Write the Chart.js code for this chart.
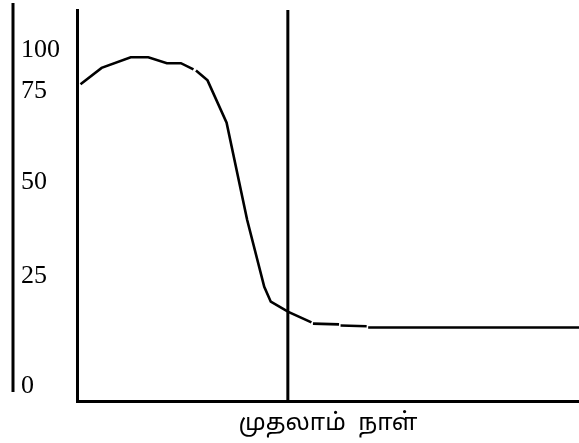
<!DOCTYPE html>
<html>
<head>
<meta charset="utf-8">
<script src="https://cdn.jsdelivr.net/npm/chart.js@4.4.1/dist/chart.umd.min.js"></script>
<style>
  html,body{margin:0;padding:0;background:#fff;}
  #wrap{width:579px;height:443px;position:relative;}
</style>
</head>
<body>
<div id="wrap"><canvas id="chart"></canvas></div>
<script>
// curve (x: 0-100 across plot, y: 0-100 up the plot); null = pen lift
const CURVE_X=[0.7,4.9,10.7,14.2,17.9,20.7,23.2,23.4,23.7,26.0,29.8,33.9,37.3,38.6,42.1,46.7,46.8,47.0,52.2,52.3,52.5,57.7,57.8,58.0,100];
const CURVE_Y=[81.0,85.2,87.9,87.9,86.4,86.4,84.8,null,84.5,82.0,71.2,46.3,29.2,25.4,22.8,20.1,null,19.8,19.6,null,19.3,19.1,null,18.8,18.8];
// vertical marker
const MARK_X=[42.0,42.0];
const MARK_Y=[0,100];
// y tick labels and where they sit on the axis
const TICK_VALUES=[3.8,32.0,56.0,79.3,89.8];
const TICK_LABELS=["0","25","50","75","100"];
const X_TITLE="முதலாம்  நாள்";

(function(){
  "use strict";
  const curve=CURVE_X.map((x,i)=>({x:x,y:CURVE_Y[i]}));
  const mark=MARK_X.map((x,i)=>({x:x,y:MARK_Y[i]}));

  // outer left rule, drawn beside the tick labels
  const leftRule={
    id:"leftRule",
    afterDraw(chart){
      const ctx=chart.ctx,a=chart.chartArea,y=chart.scales.y;
      ctx.save();
      ctx.strokeStyle="#000";ctx.lineWidth=3;
      ctx.beginPath();
      ctx.moveTo(y.left-8,a.top-7);ctx.lineTo(y.left-8,a.bottom-9);
      ctx.stroke();
      ctx.restore();
    }
  };

  new Chart(document.getElementById("chart"),{
    type:"line",
    data:{datasets:[
      {data:curve,borderColor:"#000",borderWidth:2.6,pointRadius:0,tension:0,spanGaps:false,fill:false},
      {data:mark,borderColor:"#000",borderWidth:3,pointRadius:0,tension:0,fill:false}
    ]},
    options:{
      responsive:true,maintainAspectRatio:false,animation:false,
      layout:{padding:{left:21,top:10,right:0,bottom:0}},
      plugins:{legend:{display:false},tooltip:{enabled:false}},
      scales:{
        x:{type:"linear",min:0,max:100,
          grid:{display:false},
          border:{display:true,color:"#000",width:3},
          ticks:{display:false},
          title:{display:true,text:X_TITLE,color:"#000",
            font:{family:"'Noto Sans Tamil','Lohit Tamil','Noto Sans',sans-serif",size:24},
            padding:{top:2,bottom:3}},
          afterFit(s){s.height=42;}
        },
        y:{type:"linear",min:0,max:100,
          grid:{display:false},
          border:{display:true,color:"#000",width:3},
          afterBuildTicks(s){s.ticks=TICK_VALUES.map(v=>({value:v}));},
          ticks:{color:"#000",crossAlign:"far",padding:0,
            font:{family:"'Liberation Serif','DejaVu Serif',serif",size:26},
            callback:(v,i)=>TICK_LABELS[i]},
          afterFit(s){s.width=56;s.paddingTop=0;s.paddingBottom=0;}
        }
      }
    },
    plugins:[leftRule]
  });
})();
</script>
</body>
</html>
